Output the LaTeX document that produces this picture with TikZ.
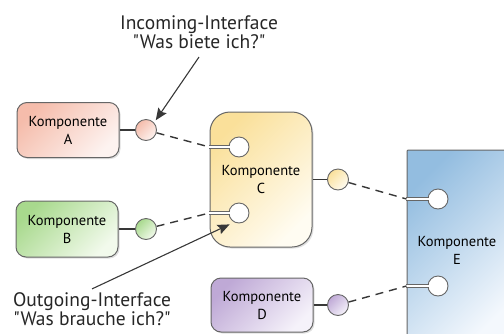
\documentclass[tikz,border=0pt]{standalone}
\usepackage{fontspec}
\setmainfont{PT Sans}[Ligatures=TeXOff]
\usetikzlibrary{arrows.meta,shadows}

\definecolor{rimgray}{HTML}{666666}
\definecolor{stickgray}{HTML}{383838}
\definecolor{pinkA}{HTML}{F5BCAB}
\definecolor{pinkB}{HTML}{FDF3F0}
\definecolor{greenA}{HTML}{A8D98D}
\definecolor{greenB}{HTML}{F2FAEC}
\definecolor{yellowA}{HTML}{FAE09A}
\definecolor{yellowB}{HTML}{FFFCF2}
\definecolor{lilacA}{HTML}{BFA9D6}
\definecolor{lilacB}{HTML}{F5F2FA}
\definecolor{blueA}{HTML}{93BDE0}
\definecolor{blueB}{HTML}{F4F8FD}

\tikzset{
  tint/.style 2 args={top color=#1, bottom color=#2, shading angle=45},
  komp/.style={draw=rimgray, line width=1pt, rounded corners=10pt,
    minimum width=102pt, minimum height=55pt, align=center,
    font=\fontsize{14.5}{18}\selectfont,
    drop shadow={shadow xshift=1.5pt, shadow yshift=-1.5pt, opacity=0.25}},
  lolli/.style={circle, draw=rimgray, line width=0.9pt, minimum size=21pt,
    inner sep=0pt},
  sock/.style={circle, draw=rimgray, line width=0.9pt, fill=white,
    minimum size=20pt, inner sep=0pt},
  channel/.style={draw=rimgray, line width=0.8pt, double=white, double distance=2.2pt},
  stick/.style={draw=stickgray, line width=1.7pt},
  wire/.style={draw=stickgray, line width=1.4pt, dash pattern=on 8pt off 6pt},
  pointer/.style={draw=stickgray, line width=1.1pt, -{Stealth[length=12pt, width=10pt, inset=2pt]}},
  note/.style={align=center, font=\fontsize{19.5}{19}\selectfont, text=black!85}
}

\begin{document}
\begin{tikzpicture}[x=1pt, y=-1pt]
    \useasboundingbox (0,0) rectangle (504,333);

    % Komponenten
    \node[komp, tint={pinkA}{pinkB}] (compA) at (68,130) {Komponente\\A};
    \node[komp, tint={greenA}{greenB}, minimum height=56pt] (compB) at (67,229) {Komponente\\B};
    \node[komp, tint={yellowA}{yellowB}, minimum height=135pt,
          rounded corners=20pt] (compC) at (261,179.5) {Komponente\\C};
    \node[komp, tint={lilacA}{lilacB}, minimum height=54pt] (compD) at (262,305) {Komponente\\D};
    \node[komp, tint={blueA}{blueB}, minimum width=100pt, minimum height=200pt,
          rounded corners=1pt] (compE) at (457,250) {Komponente\\E};

    % Lollipops (angebotene Schnittstellen)
    \node[lolli, tint={pinkA}{pinkB}] (lolA) at (146,130) {};
    \node[lolli, tint={greenA}{greenB}] (lolB) at (146,229) {};
    \node[lolli, tint={yellowA}{yellowB}] (lolC) at (338,179.5) {};
    \node[lolli, tint={lilacA}{lilacB}] (lolD) at (338,305) {};
    \draw[stick] (compA.east) -- (lolA);
    \draw[stick] (compB.east) -- (lolB);
    \draw[stick] (compC.east) -- (lolC);
    \draw[stick] (compD.east) -- (lolD);

    % Sockets (benoetigte Schnittstellen)
    \node[sock] (sockCa) at (239,147) {};
    \node[sock] (sockCb) at (239,213) {};
    \node[sock] (sockEa) at (438,199) {};
    \node[sock] (sockEb) at (438,286) {};
    \coordinate (inCa) at (compC.west |- sockCa);
    \coordinate (inCb) at (compC.west |- sockCb);
    \coordinate (inEa) at (compE.west |- sockEa);
    \coordinate (inEb) at (compE.west |- sockEb);
    \draw[channel] ([xshift=-0.4pt]inCa) -- ([xshift=1pt]sockCa.west);
    \draw[channel] ([xshift=-0.4pt]inCb) -- ([xshift=1pt]sockCb.west);
    \draw[channel] ([xshift=-0.4pt]inEa) -- ([xshift=1pt]sockEa.west);
    \draw[channel] ([xshift=-0.4pt]inEb) -- ([xshift=1pt]sockEb.west);

    % Verbindungen
    \draw[wire] (lolA) -- (inCa);
    \draw[wire] (lolB) -- (inCb);
    \draw[wire] (lolC) -- (inEa);
    \draw[wire] (lolD) -- (inEb);

    % Beschriftungen
    \node[note] (inNote) at (199,32) {Incoming-Interface\\"Was biete ich?"};
    \node[note] (outNote) at (92,309) {Outgoing-Interface\\"Was brauche ich?"};
    \draw[pointer] ([yshift=-5pt]inNote.south) -- ([shift={(2pt,2pt)}]lolA.north east);
    \draw[pointer] (outNote.north) -- ([shift={(-2pt,-4pt)}]sockCb.south west);
\end{tikzpicture}
\end{document}
